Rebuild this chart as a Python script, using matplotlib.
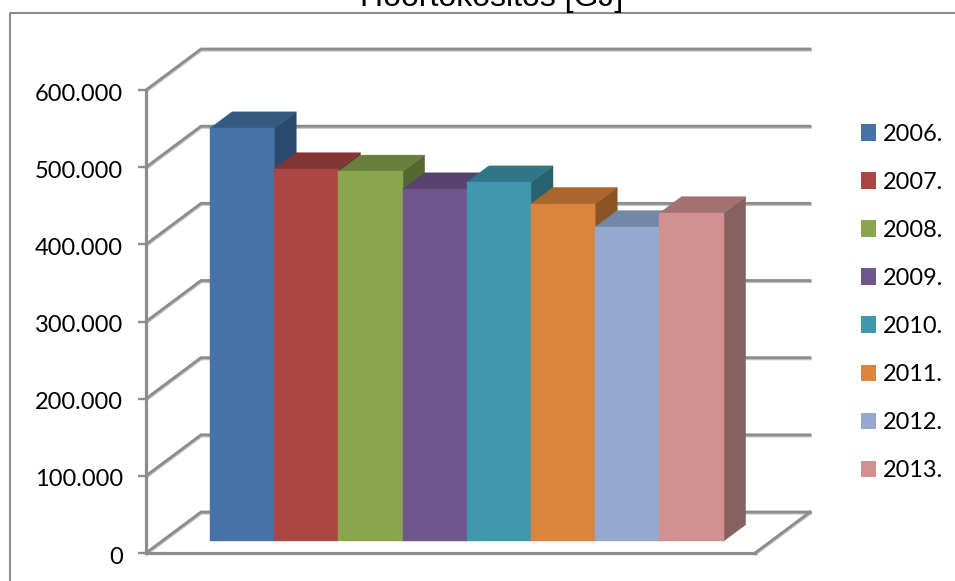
"""Recreation of an Excel-style 3D column chart, drawn as an oblique projection."""
import matplotlib
matplotlib.use("Agg")
import matplotlib.patheffects as pe
import matplotlib.pyplot as plt
from matplotlib.patches import Patch, Polygon
from matplotlib.ticker import FuncFormatter
from matplotlib.transforms import ScaledTranslation

W, H = 955, 581

TITLE = "Hoortokositos [GJ]"
YEARS = ["2006.", "2007.", "2008.", "2009.", "2010.", "2011.", "2012.", "2013."]
VALUES = [535000, 482000, 479000, 456000, 465000, 437000, 407000, 425000]
FRONT = ["#4672a8", "#aa4644", "#8aa54e", "#70568f", "#4097ae", "#db843d", "#95a9d0", "#d09190"]
TOPS = ["#355a82", "#833534", "#697f3b", "#56436f", "#307687", "#aa662c", "#7388a6", "#a27170"]
SIDES = ["#2c4a6e", "#6e2d2c", "#566832", "#47375c", "#28616f", "#8c5424", "#5f708a", "#876060"]
YTICKS = [0, 100000, 200000, 300000, 400000, 500000, 600000]

GRID = "#8c8c8c"

# plot box in pixels (front plane)
X0, X1, Y0, Y1 = 146, 755, 553, 90
# category width and the depth of the floor, all px
CAT_W = 64.2
DEPTH_X, DEPTH_Y = 55, 41
BAR_D0, BAR_D1 = 0.29, 0.69

SHADOW = [pe.SimpleLineShadow(offset=(0.3, -0.9), shadow_color="#999999", alpha=0.6), pe.Normal()]


def to_fig(px, py):
    return px / W, 1 - py / H


fig = plt.figure(figsize=(W / 100, H / 100), dpi=100)
ax = fig.add_axes([X0 / W, 1 - Y0 / H, (X1 - X0) / W, (Y0 - Y1) / H])

# x in category units, first bar's front left corner at 0 on the front plane
first_left = 210 - BAR_D0 * DEPTH_X
ax.set_xlim((X0 - first_left) / CAT_W, (X1 - first_left) / CAT_W)
ax.set_ylim(0, 600000)

dx = DEPTH_X / CAT_W
dy = DEPTH_Y * 600000 / (Y0 - Y1)


def proj(x, v, d):
    """Oblique projection of (category x, value, depth 0..1)."""
    return x + d * dx, v + d * dy


x_lo, x_hi = ax.get_xlim()
for v in YTICKS:
    # side wall + back wall gridlines
    pts = [proj(x_lo, v, 0), proj(x_lo, v, 1), proj(x_hi, v, 1)]
    ax.plot(*zip(*pts), color=GRID, lw=2.0, clip_on=False, zorder=1,
            solid_joinstyle="miter", path_effects=SHADOW)
# floor edge on the right
pts = [proj(x_hi, 0, 0), proj(x_hi, 0, 1)]
ax.plot(*zip(*pts), color=GRID, lw=2.0, clip_on=False, zorder=1, path_effects=SHADOW)

for i, v in enumerate(VALUES):
    z = 2 + i
    corners = {
        "fl": proj(i, 0, BAR_D0), "fr": proj(i + 1, 0, BAR_D0),
        "tl": proj(i, v, BAR_D0), "tr": proj(i + 1, v, BAR_D0),
        "bl": proj(i, v, BAR_D1), "br": proj(i + 1, v, BAR_D1),
        "gr": proj(i + 1, 0, BAR_D1),
    }
    ax.add_patch(Polygon([corners[k] for k in ("tr", "br", "gr", "fr")], closed=True,
                         fc=SIDES[i], ec=SIDES[i], lw=0.3, clip_on=False, zorder=z))
    ax.add_patch(Polygon([corners[k] for k in ("tl", "tr", "br", "bl")], closed=True,
                         fc=TOPS[i], ec=TOPS[i], lw=0.3, clip_on=False, zorder=z))
    ax.add_patch(Polygon([corners[k] for k in ("fl", "fr", "tr", "tl")], closed=True,
                         fc=FRONT[i], ec=FRONT[i], lw=0.3, clip_on=False, zorder=z))

# axes
ax.patch.set_visible(False)
for s in ("top", "right"):
    ax.spines[s].set_visible(False)
for s in ("left", "bottom"):
    ax.spines[s].set_color(GRID)
    ax.spines[s].set_linewidth(2.3)
    ax.spines[s].set_zorder(20)
ax.set_xticks([])
ax.set_yticks(YTICKS)
ax.yaxis.set_major_formatter(FuncFormatter(lambda v, _: f"{int(v):,}".replace(",", ".")))
ax.tick_params(axis="y", length=5.5, width=1.7, color=GRID, pad=13, labelsize=17,
               labelcolor="#000000")
# labels sit a touch lower than the ticks
nudge = ScaledTranslation(2 / 72, -1.5 / 72, fig.dpi_scale_trans)
for lab in ax.get_yticklabels():
    lab.set_fontfamily("Lato")
    lab.set_transform(lab.get_transform() + nudge)

# outer chart frame: only top and left are in the picture
fig.add_artist(plt.Line2D([10 / W, 10 / W, 1], [0, 1 - 13 / H, 1 - 13 / H],
                          color="#8c8c8c", lw=1.5, transform=fig.transFigure))

# title is cut by the top edge of the image, same as the source
fx, fy = to_fig(492, 6)
fig.text(fx, fy, TITLE, ha="center", va="baseline", fontsize=23,
         family="Liberation Sans", color="#000000")

handles = [Patch(fc=c, ec="none", label=y) for c, y in zip(FRONT, YEARS)]
leg = fig.legend(handles=handles, loc="upper left", bbox_to_anchor=to_fig(854, 116.5),
                 frameon=False, ncol=1, handlelength=0.64, handleheight=0.72,
                 handletextpad=0.3, labelspacing=1.155, borderpad=0.3, borderaxespad=0,
                 prop={"family": "Lato", "size": 16.9})

fig.savefig("out.png", dpi=100)
